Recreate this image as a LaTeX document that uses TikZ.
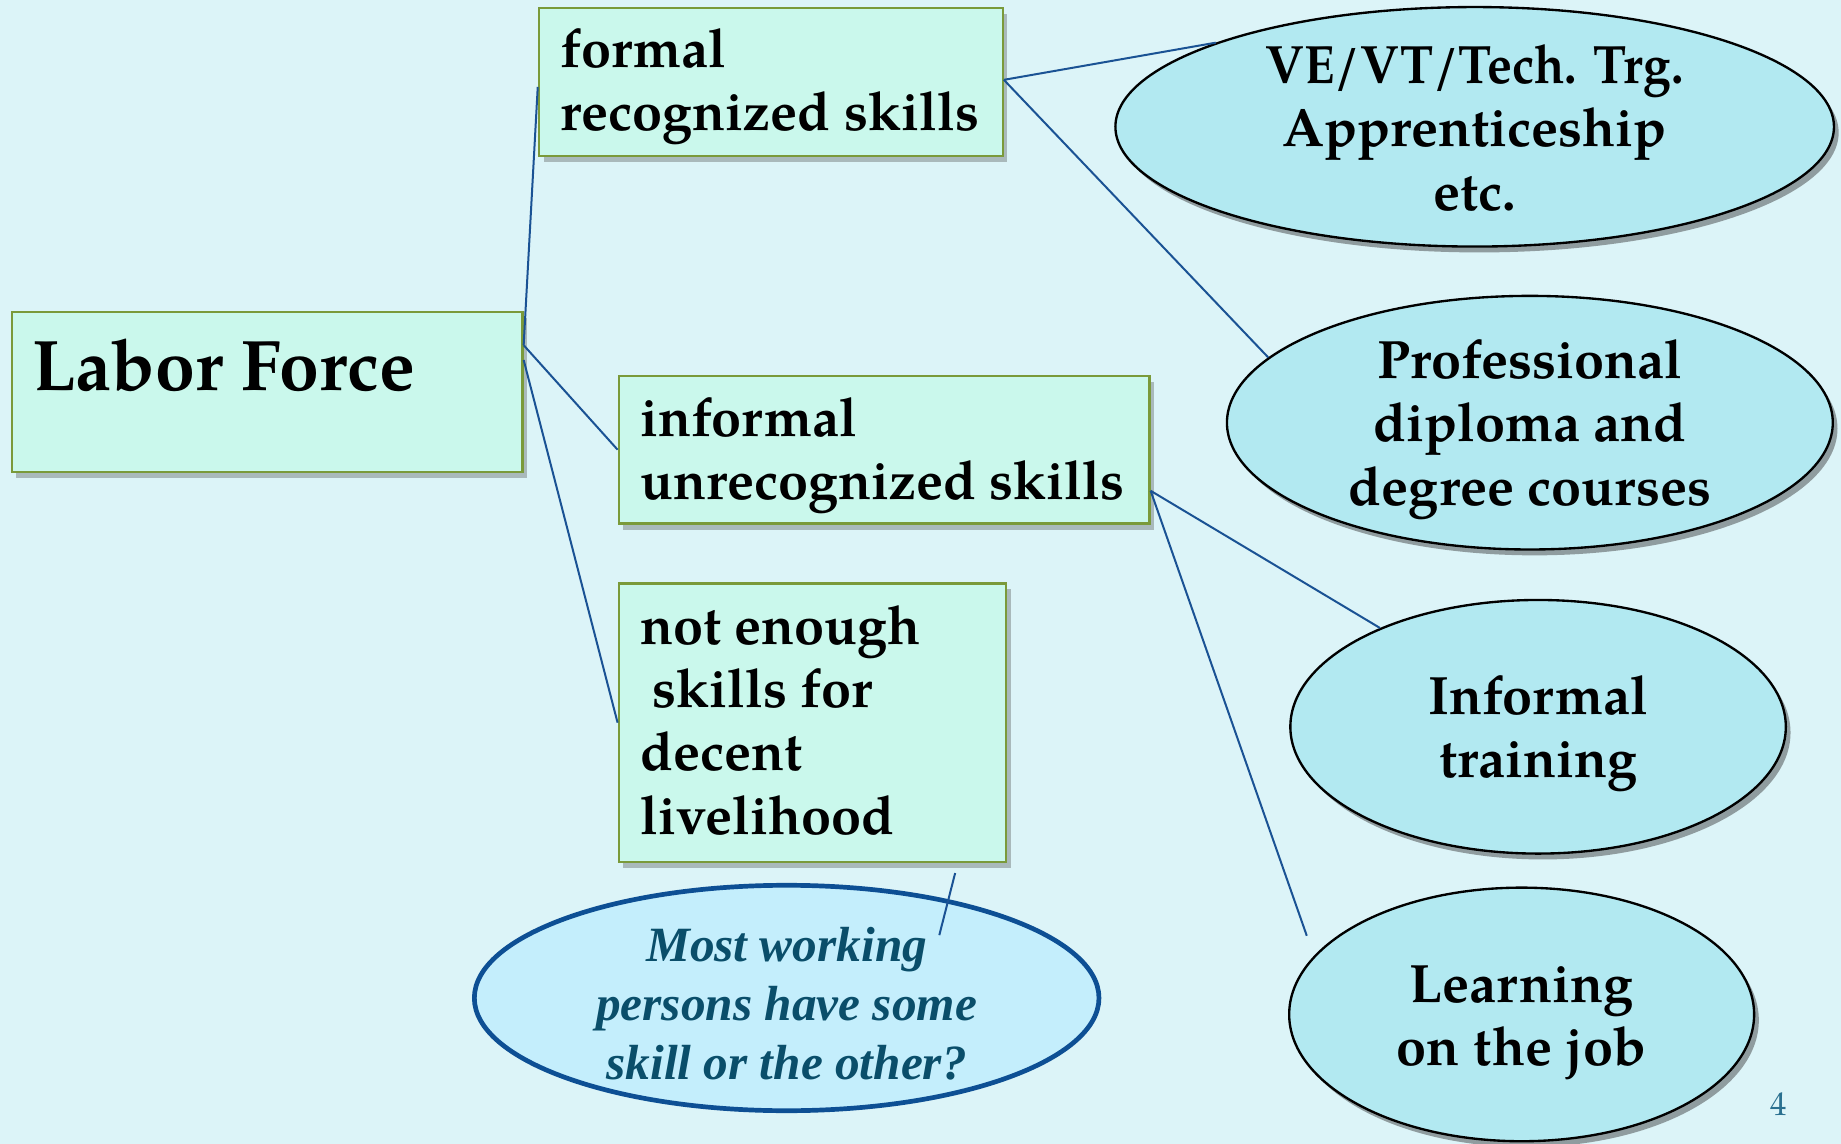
\documentclass[tikz,border=0pt]{standalone}
\usepackage{fontspec}
\setmainfont{TeX Gyre Pagella}
\newfontfamily\qfont{Liberation Serif}
\usetikzlibrary{shapes.geometric,shadows}
\definecolor{bgcol}{HTML}{DCF4F8}
\definecolor{boxfill}{HTML}{CAF8EC}
\definecolor{boxline}{HTML}{7A9A3A}
\definecolor{ovalfill}{HTML}{B2E9F1}
\definecolor{qfill}{HTML}{C4EEFC}
\definecolor{qline}{HTML}{0D4F94}
\definecolor{qtext}{HTML}{0A4E6A}
\definecolor{linkcol}{HTML}{1A5294}
\definecolor{pagecol}{HTML}{2A7090}
\begin{document}
\begin{tikzpicture}[x=0.5pt,y=-0.5pt,
  skillbox/.style={rectangle, draw=boxline, line width=1pt, fill=boxfill, inner sep=0pt,
    drop shadow={shadow xshift=2pt, shadow yshift=-2.5pt, opacity=0.35, fill=black!70}},
  boxtext/.style={anchor=north west, inner sep=0pt, align=left,
    font=\fontsize{23}{27}\selectfont\bfseries},
  oval/.style={ellipse, draw=black, line width=1pt, fill=ovalfill, inner sep=0pt,
    drop shadow={shadow xshift=2pt, shadow yshift=-2.5pt, opacity=0.45, fill=black!80}},
  ovaltext/.style={inner sep=0pt, align=center, font=\fontsize{23}{27}\selectfont\bfseries},
  link/.style={draw=linkcol, line width=0.85pt}
]
% background
\fill[bgcol] (0,0) rectangle (1568,974);
\useasboundingbox (0,0) rectangle (1568,974);

% rectangular skill boxes
\node[skillbox, minimum width=217.5pt, minimum height=68pt] (lf) at (227.5,334) {};
\node[boxtext, font=\fontsize{30.5}{36}\selectfont\bfseries] (lftext) at (27,288) {Labor Force};

\node[skillbox, minimum width=197.5pt, minimum height=63pt] (formal) at (656.5,70) {};
\node[boxtext] (formaltext) at (477,24) {formal\\recognized skills};

\node[skillbox, minimum width=226pt, minimum height=63pt] (inf) at (753,383) {};
\node[boxtext] (inftext) at (545,338) {informal\\unrecognized skills};

\node[skillbox, minimum width=165pt, minimum height=118.5pt] (ne) at (692,615.5) {};
\node[boxtext] (netext) at (545,515) {not enough\\\hspace{0.22em}skills for\\decent\\livelihood};

% training ovals
\node[oval, minimum width=306pt, minimum height=102pt] (ve) at (1256,108) {};
\node[ovaltext] (vetext) at ([yshift=-0.5pt]ve.center)
  {\scalebox{0.92}[1]{VE/VT/Tech. Trg.}\\Apprenticeship\\etc.};

\node[oval, minimum width=258pt, minimum height=108pt] (prof) at (1303,360) {};
\node[ovaltext] (proftext) at ([yshift=-3pt]prof.center) {Professional\\diploma and\\degree courses};

\node[oval, minimum width=211pt, minimum height=108pt] (itr) at (1310,619) {};
\node[ovaltext] (itrtext) at ([yshift=-3pt]itr.center) {Informal\\training};

\node[oval, minimum width=198pt, minimum height=108pt] (ljob) at (1296,864) {};
\node[ovaltext] (ljobtext) at ([yshift=-3.5pt]ljob.center) {Learning\\on the job};

% question bubble
\node[ellipse, draw=qline, line width=2pt, fill=qfill, inner sep=0pt,
      minimum width=266pt, minimum height=96pt] (q) at (670,850) {};
\node[inner sep=0pt, align=center, text=qtext,
      font=\qfont\fontsize{21}{25}\selectfont\bfseries\itshape] (qtext) at ([yshift=-2.5pt]q.center)
  {Most working\\persons have some\\skill or the other?};

% connectors
\draw[link] ([yshift=20pt]lf.east) -- ([yshift=-2pt]formal.west);
\draw[link] ([yshift=20pt]lf.east) -- (inf.west);
\draw[link] ([yshift=13.7pt]lf.east) -- (ne.west);
\draw[link] ([yshift=1pt]formal.east) -- (ve.162);
\draw[link] ([yshift=1pt]formal.east) -- (prof.166);
\draw[link] ([yshift=-17.5pt]inf.east) -- (itr.148);
\coordinate (ljend) at (1113,797);
\draw[link] ([yshift=-17.5pt]inf.east) -- (ljend);
\coordinate (tailtop) at ([shift={(60.75pt,-4.3pt)}]ne.south);
\coordinate (tailend) at ([shift={(65pt,26.75pt)}]q.center);
\draw[link] (tailtop) -- (tailend);

% page number
\node[inner sep=0pt, text=pagecol, font=\fontsize{14}{16}\selectfont] (pg) at (1515,940) {4};
\end{tikzpicture}
\end{document}
